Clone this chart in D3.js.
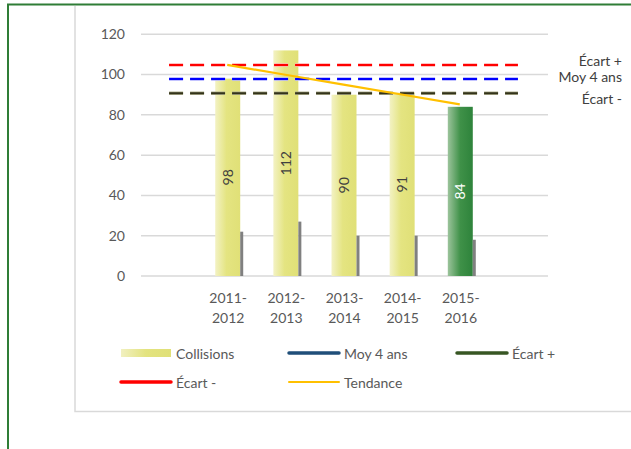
<!DOCTYPE html>
<html>
<head>
<meta charset="utf-8">
<script src="https://cdn.jsdelivr.net/npm/d3@7"></script>
<style>
  body { margin: 0; background: #fff; }
  svg { display: block; font-family: Lato, "Open Sans", sans-serif; }
</style>
</head>
<body>
<script>
// chart values
const categories = ['2011-2012', '2012-2013', '2013-2014', '2014-2015', '2015-2016'];
const collisions = [98, 112, 90, 91, 84];
const secondary = [22, 27, 20, 20, 18];
const tendance = [104.8, 99.9, 95.0, 90.1, 85.2];
const ecartHaut = 104.8;
const moy4ans = 97.75;
const ecartBas = 90.7;
const yTicks = [0, 20, 40, 60, 80, 100, 120];

const width = 631, height = 449;
const textColor = '#595959';

const svg = d3.select('body').append('svg')
  .attr('width', width)
  .attr('height', height);

// outer frame (green) and inner panel (grey)
svg.append('path')
  .attr('d', `M8 ${height} V4.5 H${width}`)
  .attr('fill', 'none')
  .attr('stroke', '#2f7d36')
  .attr('stroke-width', 2);
svg.append('path')
  .attr('d', `M75 6 V411.5 H${width}`)
  .attr('fill', 'none')
  .attr('stroke', '#d9d9d9')
  .attr('stroke-width', 1.5);

// empty slot at each end, like the original
const slots = ['_start', ...categories, '_end'];
const x = d3.scaleBand().domain(slots).range([141, 548]);
const y = d3.scaleLinear().domain([0, 120]).range([276, 34.3]);
const barW = 25;
const cx = c => x(c) + x.bandwidth() / 2;

// gradients
const defs = svg.append('defs');
function grad(id, stops) {
  const g = defs.append('linearGradient').attr('id', id)
    .attr('x1', '0%').attr('x2', '100%').attr('y1', '0%').attr('y2', '0%');
  stops.forEach(s => g.append('stop').attr('offset', s[0]).attr('stop-color', s[1]));
}
grad('yellowGrad', [['0%', '#f3f2c4'], ['45%', '#e4e481'], ['100%', '#e0e077']]);
grad('greenGrad', [['0%', '#9cc49c'], ['50%', '#3f9148'], ['100%', '#2e833b']]);
grad('legGrad', [['0%', '#f1f0c0'], ['50%', '#e3e37f'], ['100%', '#e0e077']]);

// gridlines
svg.append('g')
  .selectAll('line')
  .data(yTicks)
  .join('line')
  .attr('x1', 141).attr('x2', 548)
  .attr('y1', d => y(d)).attr('y2', d => y(d))
  .attr('stroke', '#d9d9d9')
  .attr('stroke-width', 1.5);

// y axis labels
svg.append('g')
  .selectAll('text')
  .data(yTicks)
  .join('text')
  .attr('x', 125)
  .attr('y', d => y(d))
  .attr('dy', '0.35em')
  .attr('text-anchor', 'end')
  .attr('font-size', 14)
  .attr('fill', textColor)
  .text(d => d);

// collision bars
svg.append('g')
  .selectAll('rect')
  .data(collisions)
  .join('rect')
  .attr('x', (d, i) => cx(categories[i]) - barW / 2 - 0.5)
  .attr('y', d => y(d))
  .attr('width', barW)
  .attr('height', d => y(0) - y(d))
  .attr('fill', (d, i) => i === 4 ? 'url(#greenGrad)' : 'url(#yellowGrad)');

// thin grey series
svg.append('g')
  .selectAll('rect')
  .data(secondary)
  .join('rect')
  .attr('x', (d, i) => cx(categories[i]) + barW / 2 - 0.5)
  .attr('y', d => y(d))
  .attr('width', 3)
  .attr('height', d => y(0) - y(d))
  .attr('fill', '#808080');

// vertical value labels
svg.append('g')
  .selectAll('text')
  .data(collisions)
  .join('text')
  .attr('transform', (d, i) => `translate(${cx(categories[i]) - 0.5},${(y(d) + y(0)) / 2}) rotate(-90)`)
  .attr('text-anchor', 'middle')
  .attr('dy', '0.35em')
  .attr('font-size', 14)
  .attr('fill', (d, i) => i === 4 ? '#ffffff' : '#404040')
  .text(d => d);

// horizontal reference lines (dashed)
const refs = [
  { v: ecartHaut, color: '#ff0000', halo: '#ffb0b0' },
  { v: moy4ans, color: '#0000ff', halo: '#b0b0ff' },
  { v: ecartBas, color: '#33331a', halo: '#b0b090' }
];
const x0 = cx('_start') - 1, x1 = cx('_end') - 1;
refs.forEach(r => {
  svg.append('line')
    .attr('x1', x0).attr('x2', x1)
    .attr('y1', y(r.v)).attr('y2', y(r.v))
    .attr('stroke', r.halo)
    .attr('stroke-width', 3.5)
    .attr('stroke-dasharray', '14,7');
  svg.append('line')
    .attr('x1', x0).attr('x2', x1)
    .attr('y1', y(r.v)).attr('y2', y(r.v))
    .attr('stroke', r.color)
    .attr('stroke-width', 2)
    .attr('stroke-dasharray', '14,7');
});

// trend line
const line = d3.line()
  .x((d, i) => cx(categories[i]) - 1)
  .y(d => y(d));
svg.append('path')
  .datum(tendance)
  .attr('d', line)
  .attr('fill', 'none')
  .attr('stroke', '#ffc000')
  .attr('stroke-width', 2.2);

// labels at right of reference lines
const sideLabels = [
  { t: 'Écart +', y: 61 },
  { t: 'Moy 4 ans', y: 77.5 },
  { t: 'Écart -', y: 99 }
];
svg.append('g')
  .selectAll('text')
  .data(sideLabels)
  .join('text')
  .attr('x', 622)
  .attr('y', d => d.y)
  .attr('dy', '0.35em')
  .attr('text-anchor', 'end')
  .attr('font-size', 14)
  .attr('fill', '#404040')
  .text(d => d.t);

// category labels, two lines each
const xl = svg.append('g')
  .selectAll('text')
  .data(categories)
  .join('text')
  .attr('text-anchor', 'middle')
  .attr('font-size', 14)
  .attr('fill', textColor);
xl.append('tspan')
  .attr('x', d => cx(d))
  .attr('y', 298)
  .attr('dy', '0.35em')
  .text(d => d.split('-')[0] + '-');
xl.append('tspan')
  .attr('x', d => cx(d))
  .attr('y', 318)
  .attr('dy', '0.35em')
  .text(d => d.split('-')[1]);

// legend
const legend = [
  { t: 'Collisions', x: 121, y: 354, type: 'rect', color: 'url(#legGrad)' },
  { t: 'Moy 4 ans', x: 289, y: 354, type: 'line', color: '#1f4e79', w: 3.5 },
  { t: 'Écart +', x: 457, y: 354, type: 'line', color: '#375623', w: 3.5 },
  { t: 'Écart -', x: 121, y: 383, type: 'line', color: '#ff0000', w: 3.5 },
  { t: 'Tendance', x: 289, y: 383, type: 'line', color: '#ffc000', w: 2 }
];
const lg = svg.append('g')
  .selectAll('g')
  .data(legend)
  .join('g')
  .attr('transform', d => `translate(${d.x},${d.y})`);
lg.filter(d => d.type === 'rect')
  .append('rect')
  .attr('x', 0).attr('y', -5)
  .attr('width', 50).attr('height', 8)
  .attr('fill', d => d.color);
lg.filter(d => d.type === 'line')
  .append('line')
  .attr('x1', 0).attr('x2', 50)
  .attr('y1', -1).attr('y2', -1)
  .attr('stroke', d => d.color)
  .attr('stroke-width', d => d.w)
  .attr('stroke-linecap', 'round');
lg.append('text')
  .attr('x', 55)
  .attr('y', 0)
  .attr('dy', '0.35em')
  .attr('font-size', 14)
  .attr('fill', textColor)
  .text(d => d.t);
</script>
</body>
</html>
